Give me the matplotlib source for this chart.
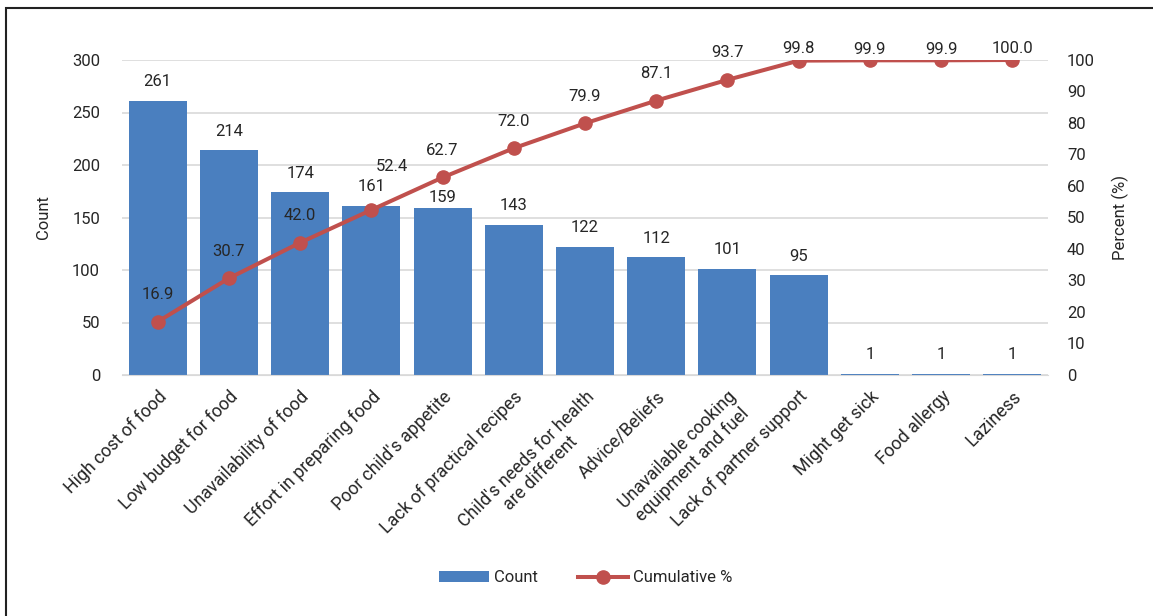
import matplotlib.pyplot as plt
import numpy as np

plt.rcParams['font.family'] = ['Roboto', 'DejaVu Sans']

categories = ["High cost of food", "Low budget for food", "Unavailability of food",
              "Effort in preparing food", "Poor child's appetite", "Lack of practical recipes",
              "Child's needs for health\nare different", "Advice/Beliefs",
              "Unavailable cooking\nequipment and fuel", "Lack of partner support",
              "Might get sick", "Food allergy", "Laziness"]
counts = [261, 214, 174, 161, 159, 143, 122, 112, 101, 95, 1, 1, 1]
cumulative = [16.9, 30.7, 42.0, 52.4, 62.7, 72.0, 79.9, 87.1, 93.7, 99.8, 99.9, 99.9, 100.0]

bar_color = '#4A7FBF'
line_color = '#C0504D'
text_color = '#262626'
fs = 12
px = 72 / 100  # points per pixel at dpi 100

fig = plt.figure(figsize=(11.53, 6.16), dpi=100)
ax = fig.add_axes([122 / 1153, 1 - 375 / 616, 926 / 1153, 315 / 616])
ax2 = ax.twinx()

x = np.arange(len(categories))
bars = ax.bar(x, counts, width=0.815, color=bar_color, label='Count', zorder=2)
ax.set_xlim(-0.5, len(categories) - 0.5)
ax.set_ylim(0, 300)
ax.set_yticks(range(0, 301, 50))
ax.grid(axis='y', color='#D9D9D9', linewidth=1.2, zorder=0)
ax.set_axisbelow(True)
for s in list(ax.spines.values()) + list(ax2.spines.values()):
    s.set_visible(False)
ax.spines['bottom'].set_visible(True)
ax.spines['bottom'].set_color('#D9D9D9')
ax.tick_params(axis='y', length=0, labelsize=fs, colors=text_color, pad=22 * px)
ax.tick_params(axis='x', length=0, labelsize=12.8, colors=text_color, pad=9)
ax.set_xticks(x)
ax.set_xticklabels(categories, rotation=45, ha='right', rotation_mode='anchor',
                   multialignment='center')
ax.set_ylabel('Count', fontsize=fs, color=text_color, labelpad=15)

# bar label offsets above bar top (pixels)
bar_dy = {4: 11}
for i, (xi, c) in enumerate(zip(x, counts)):
    ax.annotate(str(c), (xi, c), xytext=(0, bar_dy.get(i, 19) * px), textcoords='offset points',
                ha='center', va='center', fontsize=fs, color=text_color)

line, = ax2.plot(x, cumulative, color=line_color, linewidth=2.9, marker='o',
                 markersize=9.5, label='Cumulative %', zorder=3)
ax2.set_ylim(0, 100)
ax2.set_yticks(range(0, 101, 10))
ax2.tick_params(axis='y', length=0, labelsize=fs, colors=text_color, pad=19 * px)
ax2.set_ylabel('Percent (%)', fontsize=fs, color=text_color, labelpad=12)

# label nudges (pixels): keep labels inside the plot area top, one label shifted right
nudge_x = {3: 21}
nudge_y = {3: 43}
for i, (xi, v) in enumerate(zip(x, cumulative)):
    marker_px = 375 - v * 3.15
    dy = nudge_y.get(i, min(27, marker_px - 49))
    dx = nudge_x.get(i, 0)
    ax2.annotate(f"{v:.1f}", (xi, v), xytext=(dx * px, dy * px), textcoords='offset points',
                 ha='center', va='center', fontsize=fs, color=text_color, zorder=4)

fig.legend([bars, line], ['Count', 'Cumulative %'], loc='center',
           bbox_to_anchor=(586 / 1153, 1 - 578 / 616), ncol=2, frameon=False,
           fontsize=fs, handlelength=3.0, handleheight=0.6, handletextpad=0.3,
           columnspacing=2.4, labelcolor=text_color)

fig.patches.append(plt.Rectangle((6 / 1153, -0.1), 1.2, 1.1 - 8 / 616, transform=fig.transFigure,
                                 fill=False, edgecolor='#222222', linewidth=1.5))

fig.savefig('out.png', dpi=100)
